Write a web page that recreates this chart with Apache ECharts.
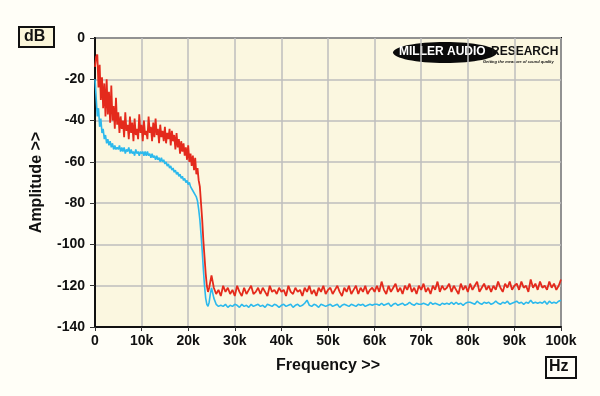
<!DOCTYPE html>
<html><head><meta charset="utf-8">
<script src="https://cdn.jsdelivr.net/npm/echarts@6/dist/echarts.min.js"></script>
<style>html,body{margin:0;padding:0;background:#FFFEF7}#c{width:600px;height:396px}</style>
</head><body><div id="c"></div>
<script>
// Frequency in kHz. Low band: 0..25k step 0.25k; high band: 25.5k..100k step 0.5k
const lowStart = 0, lowStep = 0.25;
const highStart = 25.5, highStep = 0.5;

const redLow = [
-14,-9,-8,-24,-13, -30,-19,-34,-22,-38,
-20,-37,-26,-41,-23, -40,-33,-44,-29,-42,
-36,-46,-38,-44,-40, -48,-36,-45,-42,-49,
-38,-46,-41,-50,-39, -47,-44,-49,-37,-46,
-42,-50,-40,-47,-45, -49,-38,-46,-43,-50,
-41,-48,-39,-47,-44, -51,-42,-48,-45,-50,
-43,-51,-46,-49,-44, -52,-45,-50,-47,-54,
-46,-53,-49,-56,-50, -55,-51,-57,-53,-59,
-52,-60,-56,-62,-57, -64,-58,-66,-63,-69,
-72,-80,-88,-98,-106, -114,-120,-123,-121,-118,
-115];
const redHigh = [
-121,-124,-122,-125,-120,-123,-121,-124,-122,-125,
-120,-123,-125,-121,-124,-122,-120,-124,-123,-121,
-124,-121,-123,-125,-120,-123,-122,-124,-121,-123,
-122,-125,-120,-123,-124,-121,-123,-122,-125,-121,
-123,-120,-124,-122,-125,-121,-123,-120,-124,-122,
-121,-124,-122,-120,-123,-125,-121,-123,-120,-124,
-122,-120,-124,-121,-123,-120,-124,-122,-121,-123,
-120,-123,-118,-122,-124,-120,-123,-121,-119,-123,
-121,-124,-120,-122,-119,-123,-121,-124,-120,-122,
-119,-123,-121,-124,-120,-122,-118,-123,-120,-122,
-121,-119,-123,-120,-122,-124,-119,-122,-120,-123,
-119,-122,-120,-118,-123,-121,-119,-122,-120,-123,
-120,-122,-118,-121,-123,-119,-121,-118,-122,-120,
-119,-122,-118,-121,-120,-123,-117,-121,-119,-122,
-118,-121,-120,-122,-118,-121,-119,-122,-120,-117];

const blueLow = [
-20,-29,-38,-34,-43, -39,-46,-44,-49,-47,
-51,-49,-52,-50,-53, -51,-54,-52,-54,-53,
-54,-52,-55,-53,-55, -53,-56,-54,-55,-53,
-56,-54,-56,-55,-57, -54,-56,-55,-57,-55,
-56,-55,-57,-55,-57, -55,-57,-56,-58,-56,
-58,-57,-59,-57,-59, -58,-60,-58,-60,-59,
-61,-60,-62,-61,-63, -62,-64,-63,-65,-64,
-66,-65,-67,-66,-68, -67,-69,-68,-70,-69,
-71,-70,-72,-72,-74, -74,-76,-77,-79,-83,
-88,-95,-103,-112,-120, -126,-129,-130,-128,-124,
-121];
const blueHigh = [
-126,-129,-130,-129.5,-130,-129,-130.5,-129.5,-130,-129,
-129.5,-130.5,-129,-130,-129.5,-130.5,-129,-130,-129.5,-129,
-130,-129.5,-130.5,-129,-129.5,-130,-129,-129.5,-130.5,-129.5,
-129,-130,-129.5,-129,-130.5,-129.5,-129,-130,-129.5,-128.5,
-127,-129.5,-130,-129,-129.5,-130.5,-129,-129.5,-130,-129.5,
-129,-130,-129.5,-129,-130.5,-129.5,-129,-129.5,-130,-129,
-129.5,-130,-129,-129.5,-129,-130,-129.5,-129,-129.5,-129,
-129,-129.5,-128.5,-129.5,-129,-128.5,-130,-129,-128.5,-129.5,
-129,-128.5,-129.5,-129,-128,-129,-129.5,-128.5,-129,-129,
-128.5,-129,-129.5,-128,-129,-128.5,-129,-129.5,-128.5,-129,
-128.5,-129,-128,-129,-128,-129,-128.5,-129.5,-128.5,-128,
-128,-128.5,-129,-127.5,-128.5,-129,-128,-128.5,-128,-129,
-128.5,-127.5,-128.5,-129,-128,-128.5,-127.5,-129,-128.5,-128,
-127.5,-128.5,-128,-129,-128,-128.5,-127,-128.5,-128,-128.5,
-128,-128.5,-127.5,-129,-127.5,-128.5,-128,-128.5,-127.5,-127];

const xTickLabels = ['0','10k','20k','30k','40k','50k','60k','70k','80k','90k','100k'];
const yTickValues = [0,-20,-40,-60,-80,-100,-120,-140];

function build(low, high) {
  const out = [];
  low.forEach((v, i) => out.push([lowStart + i * lowStep, v]));
  high.forEach((v, i) => out.push([highStart + i * highStep, v]));
  return out;
}

const FONT = '"Liberation Sans", Arial, sans-serif';
const chart = echarts.init(document.getElementById('c'), null, {renderer: 'canvas'});
chart.setOption({
  animation: false,
  backgroundColor: '#FFFEF7',
  grid: {left: 95, right: 39, top: 38, bottom: 69, show: true, backgroundColor: '#FBF7E0', borderColor: '#111', borderWidth: 2},
  xAxis: {
    type: 'value', min: 0, max: 100, interval: 10,
    name: 'Frequency >>', nameLocation: 'middle', nameGap: 31,
    nameTextStyle: {fontFamily: FONT, fontWeight: 'bold', fontSize: 16, color: '#111'},
    axisLine: {show: true, onZero: false, lineStyle: {color: '#111', width: 2}},
    axisTick: {show: true, inside: false, length: 4, lineStyle: {color: '#333', width: 1}},
    axisLabel: {fontFamily: FONT, fontWeight: 'bold', fontSize: 14, color: '#111', margin: 7,
      formatter: v => xTickLabels[Math.round(v / 10)]},
    splitLine: {show: true, lineStyle: {color: '#BEBEBE', width: 1.5}}
  },
  yAxis: {
    type: 'value', min: -140, max: 0, interval: 20,
    name: 'Amplitude >>', nameLocation: 'middle', nameGap: 50, nameRotate: 90,
    nameTextStyle: {fontFamily: FONT, fontWeight: 'bold', fontSize: 16, color: '#111'},
    axisLine: {show: true, onZero: false, lineStyle: {color: '#111', width: 2}},
    axisTick: {show: true, inside: false, length: 5, lineStyle: {color: '#333', width: 1}},
    axisLabel: {fontFamily: FONT, fontWeight: 'bold', fontSize: 14, color: '#111', margin: 10,
      formatter: v => yTickValues.includes(v) ? String(v) : ''},
    splitLine: {show: true, lineStyle: {color: '#BEBEBE', width: 1.5}}
  },
  series: [
    {type: 'line', data: build(blueLow, blueHigh), showSymbol: false, symbol: 'none',
     lineStyle: {color: '#2CB9EC', width: 1.6}, z: 2},
    {type: 'line', data: build(redLow, redHigh), showSymbol: false, symbol: 'none',
     lineStyle: {color: '#E42A1C', width: 1.8}, z: 3}
  ],
  graphic: [
    {type: 'rect', left: 18, top: 26, shape: {width: 35, height: 20},
     style: {fill: '#FBF6DA', stroke: '#111', lineWidth: 2}},
    {type: 'text', left: 24, top: 29, style: {text: 'dB', font: 'bold 16px ' + FONT, fill: '#111'}},
    {type: 'rect', left: 545, top: 356, shape: {width: 30, height: 21},
     style: {fill: '#FFFEF7', stroke: '#111', lineWidth: 2}},
    {type: 'text', left: 549, top: 359, style: {text: 'Hz', font: 'bold 16px ' + FONT, fill: '#111'}},
    {type: 'ellipse', shape: {cx: 445, cy: 52.5, rx: 52, ry: 10.5}, style: {fill: '#0A0A0A'}},
    {type: 'text', left: 399, top: 46, style: {text: 'MILLER AUDIO', font: '900 12px ' + FONT, fill: '#FFFFFF'}},
    {type: 'text', left: 491, top: 46, style: {text: 'RESEARCH', font: '900 12px ' + FONT, fill: '#111'}},
    {type: 'text', left: 483, top: 60, style: {text: 'Getting the measure of sound quality', font: 'italic bold 4px ' + FONT, fill: '#111'}}
  ]
});
</script>
</body></html>
